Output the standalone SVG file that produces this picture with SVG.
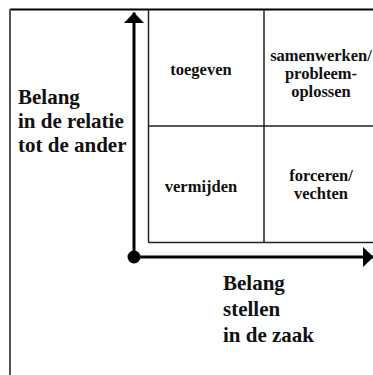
<svg xmlns="http://www.w3.org/2000/svg" width="373" height="375" viewBox="0 0 373 375">
<defs>
<marker id="ah" markerUnits="userSpaceOnUse" markerWidth="11" markerHeight="20" refX="10.5" refY="10" orient="auto" viewBox="0 0 11 20">
<path d="M0,0 L10.5,10 L0,20 Z" fill="#000"/>
</marker>
<style>
.lbl{font-family:"Liberation Serif","Times New Roman",serif;font-weight:bold;font-size:21px;fill:#111}
.cell{font-family:"Liberation Serif","Times New Roman",serif;font-weight:bold;font-size:16.5px;fill:#111;text-anchor:middle}
.grid{stroke:#222;stroke-width:1.5;fill:none}
.axis{stroke:#000;stroke-width:3;fill:none}
</style>
</defs>
<rect width="373" height="375" fill="#fff"/>
<g id="frame">
<line x1="10" y1="9.5" x2="373" y2="9.5" stroke="#000" stroke-width="2"/>
<line x1="10" y1="9" x2="10" y2="375" stroke="#555" stroke-width="2"/>
</g>
<g id="grid">
<line class="grid" x1="148.5" y1="10" x2="148.5" y2="242.5"/>
<line class="grid" x1="264" y1="10" x2="264" y2="242.5"/>
<line class="grid" x1="148.5" y1="126" x2="373" y2="126"/>
<line class="grid" x1="148.5" y1="242.5" x2="373" y2="242.5"/>
</g>
<g id="cell-toegeven"><text class="cell" x="201" y="75">toegeven</text></g>
<g id="cell-samenwerken"><text class="cell" x="321" y="61">samenwerken/</text><text class="cell" x="321" y="79">probleem-</text><text class="cell" x="321" y="97">oplossen</text></g>
<g id="cell-vermijden"><text class="cell" x="201" y="192">vermijden</text></g>
<g id="cell-forceren"><text class="cell" x="321" y="181">forceren/</text><text class="cell" x="321" y="199">vechten</text></g>
<g id="label-relatie"><text class="lbl" x="18" y="104">Belang</text><text class="lbl" x="18" y="128">in de relatie</text><text class="lbl" x="18" y="152">tot de ander</text></g>
<g id="label-zaak"><text class="lbl" x="223" y="290">Belang</text><text class="lbl" x="223" y="316">stellen</text><text class="lbl" x="223" y="342">in de zaak</text></g>
<g id="connectors">
<circle cx="134" cy="257" r="6.5" fill="#000"/>
<line class="axis" x1="134" y1="257" x2="134" y2="12.5" marker-end="url(#ah)"/>
<line class="axis" x1="134" y1="257" x2="373.5" y2="257" marker-end="url(#ah)"/>
</g>
</svg>
